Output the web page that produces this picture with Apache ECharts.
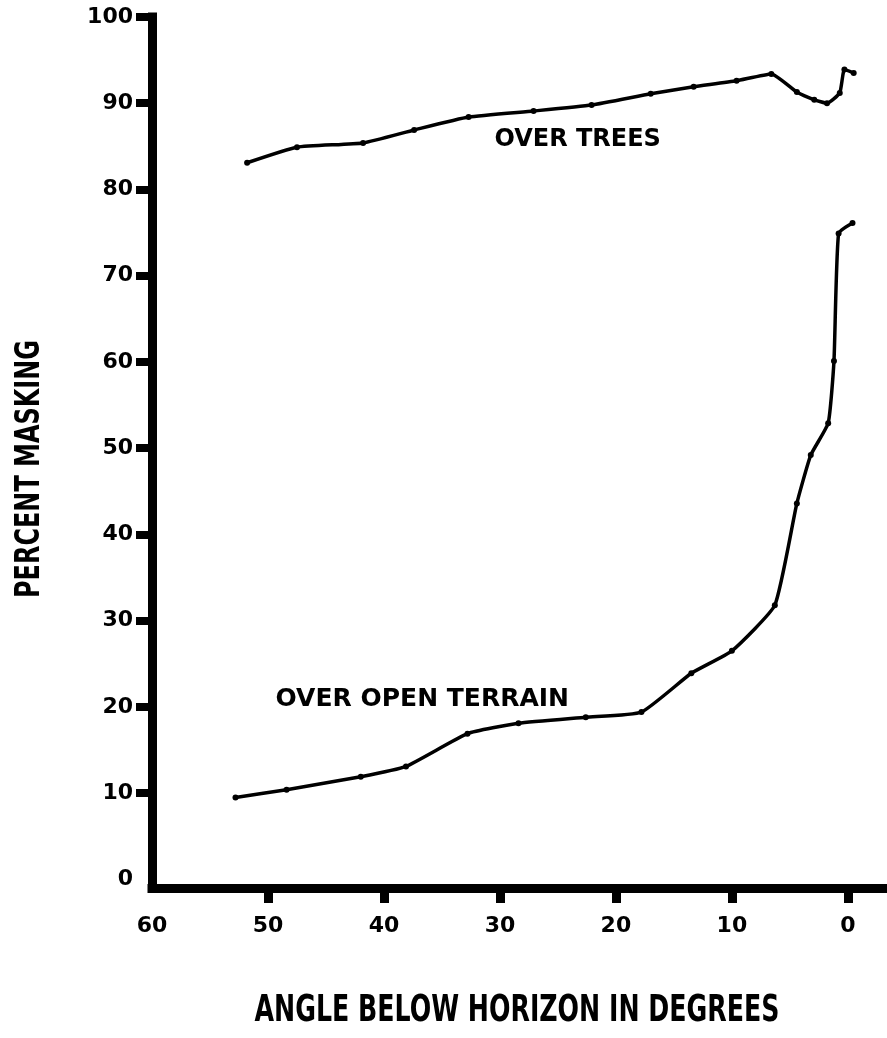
<!DOCTYPE html>
<html>
<head>
<meta charset="utf-8">
<script src="https://cdn.jsdelivr.net/npm/echarts@6/dist/echarts.min.js"></script>
<style>
  html, body { margin: 0; padding: 0; background: #fff; }
  #chart { width: 887px; height: 1038px; }
</style>
</head>
<body>
<div id="chart"></div>
<script>
// ---- data ----
const treesAngle = [51.8, 47.5, 41.8, 37.4, 32.7, 27.1, 22.1, 17.0, 13.3, 9.6, 6.6, 4.4, 2.9, 1.8, 0.7, 0.3, -0.5];
const treesMask  = [83.1, 84.9, 85.4, 86.9, 88.4, 89.1, 89.8, 91.1, 91.9, 92.6, 93.4, 91.3, 90.4, 90.0, 91.2, 93.9, 93.5];
const openAngle  = [52.8, 48.4, 42.0, 38.1, 32.8, 28.4, 22.6, 17.8, 13.5, 10.0, 6.3, 4.4, 3.2, 1.7, 1.2, 0.8, -0.4];
const openMask   = [9.5, 10.4, 11.9, 13.1, 16.9, 18.1, 18.8, 19.4, 23.9, 26.5, 31.8, 43.6, 49.2, 52.9, 60.1, 74.9, 76.1];
const xLabels = [0, 10, 20, 30, 40, 50, 60];
const xTicks  = [0, 10, 20, 30, 40, 50];
const yLabels = [0, 10, 20, 30, 40, 50, 60, 70, 80, 90, 100];
const yTicks  = [10, 20, 30, 40, 50, 60, 70, 80, 90, 100];
const seriesNames = ['OVER TREES', 'OVER OPEN TERRAIN'];
const labelAnchors = [[23.3, 85.8], [36.7, 20.9]];
const xTitle = 'ANGLE BELOW HORIZON IN DEGREES';
const yTitle = 'PERCENT MASKING';

const pairs = (xs, ys) => xs.map((x, i) => [x, ys[i]]);
const tickFont = '"DejaVu Sans", sans-serif';
const titleFontCss = 'bold 36px "DejaVu Sans Condensed", "Liberation Sans Narrow", sans-serif';

function measure(text, font) {
  const c = document.createElement('canvas').getContext('2d');
  c.font = font;
  return c.measureText(text).width;
}

const chart = echarts.init(document.getElementById('chart'), null, { renderer: 'canvas' });

const lineSeries = (name, xs, ys) => ({
  name: name,
  type: 'line',
  data: pairs(xs, ys),
  smooth: 0.15,
  symbol: 'circle',
  symbolSize: 6,
  itemStyle: { color: '#000' },
  lineStyle: { color: '#000', width: 3.5 },
  animation: false
});

chart.setOption({
  backgroundColor: '#fff',
  animation: false,
  grid: { left: 152, right: 2, top: 17, bottom: 150, containLabel: false },
  xAxis: {
    type: 'value',
    inverse: true,
    min: -3.2,
    max: 60,
    axisLine: { show: true, onZero: false, lineStyle: { color: '#000', width: 9, cap: 'square' } },
    axisTick: { show: true, customValues: xTicks, length: 15, lineStyle: { color: '#000', width: 9 } },
    axisLabel: { customValues: xLabels, margin: 27, color: '#000', fontFamily: tickFont, fontWeight: 'bold', fontSize: 22 },
    splitLine: { show: false }
  },
  yAxis: {
    type: 'value',
    min: -1,
    max: 100,
    axisLine: { show: true, onZero: false, lineStyle: { color: '#000', width: 9, cap: 'square' } },
    axisTick: { show: true, customValues: yTicks, length: 16, lineStyle: { color: '#000', width: 8 } },
    axisLabel: { customValues: yLabels, margin: 19, color: '#000', fontFamily: tickFont, fontWeight: 'bold', fontSize: 22 },
    splitLine: { show: false }
  },
  series: [
    lineSeries(seriesNames[0], treesAngle, treesMask),
    lineSeries(seriesNames[1], openAngle, openMask)
  ]
});

// series labels at data coordinates
const labelSizes = [24, 25];
const graphics = seriesNames.map((txt, i) => {
  const p = chart.convertToPixel({ gridIndex: 0 }, labelAnchors[i]);
  return {
    type: 'text',
    x: p[0],
    y: p[1],
    style: {
      text: txt,
      fill: '#000',
      font: 'bold ' + labelSizes[i] + 'px ' + tickFont,
      textAlign: 'center',
      textVerticalAlign: 'middle'
    }
  };
});

// axis titles: condensed heavy lettering, stretched to the reference lengths
const xW = measure(xTitle, titleFontCss);
graphics.push({
  type: 'text',
  x: 517, y: 1011,
  scaleX: 525 / xW, scaleY: 1.05,
  style: { text: xTitle, fill: '#000', font: titleFontCss, textAlign: 'center', textVerticalAlign: 'middle' }
});
const yW = measure(yTitle, titleFontCss);
graphics.push({
  type: 'text',
  x: 30, y: 469,
  rotation: Math.PI / 2,
  scaleX: 258 / yW, scaleY: 0.95,
  style: { text: yTitle, fill: '#000', font: titleFontCss, textAlign: 'center', textVerticalAlign: 'middle' }
});

chart.setOption({ graphic: graphics });
</script>
</body>
</html>
